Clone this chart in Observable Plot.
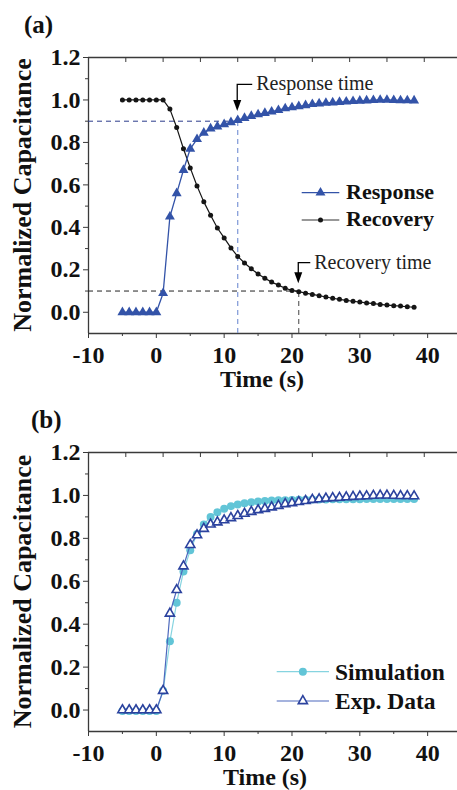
<!DOCTYPE html>
<html><head><meta charset="utf-8">
<script src="https://cdn.jsdelivr.net/npm/d3@7"></script>
<script src="https://cdn.jsdelivr.net/npm/@observablehq/plot@0.6"></script>
<style>
html,body{margin:0;padding:0;background:#fff;}
#chart svg{display:block;}
</style></head><body><div id="chart"></div>
<script>
// ---------- data ----------
const time = [-5,-4,-3,-2,-1,0,1,2,3,4,5,6,7,8,9,10,11,12,13,14,15,16,17,18,19,20,21,22,23,24,25,26,27,28,29,30,31,32,33,34,35,36,37,38];
const response = [0,0,0,0,0,0,0.09,0.45,0.56,0.67,0.77,0.815,0.845,0.865,0.875,0.885,0.895,0.905,0.915,0.924,0.932,0.938,0.945,0.952,0.96,0.965,0.97,0.975,0.98,0.983,0.986,0.988,0.99,0.992,0.994,0.996,0.997,0.999,1.0,1.0,0.999,0.998,0.998,0.997];
const recovery = [1,1,1,1,1,1,1,0.957,0.87,0.77,0.68,0.595,0.52,0.457,0.397,0.35,0.303,0.263,0.232,0.205,0.18,0.16,0.142,0.128,0.113,0.103,0.097,0.09,0.084,0.078,0.072,0.066,0.061,0.056,0.052,0.048,0.044,0.041,0.037,0.034,0.031,0.029,0.026,0.024];
const simulation = [-0.005,-0.005,-0.005,-0.005,-0.005,-0.005,0.09,0.32,0.5,0.645,0.745,0.82,0.865,0.9,0.922,0.938,0.95,0.958,0.964,0.968,0.972,0.974,0.976,0.977,0.978,0.979,0.98,0.98,0.981,0.981,0.981,0.982,0.982,0.982,0.982,0.982,0.983,0.983,0.983,0.983,0.983,0.983,0.983,0.983];
const expData = response;

const responseTime = 12, recoveryTime = 21;
const upperLevel = 0.9, lowerLevel = 0.1;

const xDomain = [-10, 44.4];
const yDomain = [-0.1, 1.2];
const xMajor = [-10, 0, 10, 20, 30, 40];
const xMinor = [-5, 5, 15, 25, 35];
const xTop = [-4.5, 1, 6.5, 12, 17.5, 23, 28.5, 34, 39.5];
const yMajor = [0, 0.2, 0.4, 0.6, 0.8, 1.0, 1.2];
const yMinor = [0.1, 0.3, 0.5, 0.7, 0.9, 1.1];

const rows = time.map((t, i) => ({t, response: response[i], recovery: recovery[i], simulation: simulation[i], exp: expData[i]}));

// ---------- styles ----------
const BLUE = "#3353a8", BLACK = "#151515";
const CYAN = "#62c5d7", CYANLINE = "#86d4e0";
const NAVY = "#2b429e", EXPLINE = "#4d69bd";
const AXIS = "#3a3a3a";
const W = 457, H = 395;

function axes(marginTop, marginBottom) {
  const plotH = H - marginTop - marginBottom;
  return [
    Plot.ruleX([xDomain[0]], {stroke: AXIS, strokeWidth: 1.3}),
    Plot.ruleY([yDomain[0]], {stroke: AXIS, strokeWidth: 1.3}),
    Plot.ruleY([yDomain[1]], {stroke: AXIS, strokeWidth: 1.3}),
    Plot.ruleX(xTop, {stroke: AXIS, insetBottom: plotH - 5}),
    Plot.axisX({ticks: xMajor, tickSize: 5, tickPadding: 7, tickFormat: d => String(d), fontSize: 24, fontWeight: "bold", label: null, stroke: AXIS}),
    Plot.axisX({ticks: xMinor, tickSize: 3, tickFormat: () => "", label: null, stroke: AXIS}),
    Plot.axisY({ticks: yMajor, tickSize: 5, tickPadding: 3, tickFormat: d => d.toFixed(1), fontSize: 24, fontWeight: "bold", label: null, stroke: AXIS}),
    Plot.axisY({ticks: yMinor, tickSize: 3, tickFormat: () => "", label: null, stroke: AXIS})
  ];
}

function titles(tag, tagX, plotTop, plotBottom, xTitleX) {
  return () => {
    const g = d3.create("svg:g").attr("fill", "#111");
    g.append("text").attr("x", tagX).attr("y", 33).attr("text-anchor", "start").attr("font-size", 25).attr("font-weight", "bold").text(tag);
    g.append("text").attr("transform", `translate(31,${(plotTop + plotBottom) / 2}) rotate(-90)`)
      .attr("text-anchor", "middle").attr("font-size", 26).attr("font-weight", "bold").text("Normalized Capacitance");
    g.append("text").attr("x", xTitleX).attr("y", plotBottom + 54).attr("text-anchor", "middle")
      .attr("font-size", 24).attr("font-weight", "bold").text("Time (s)");
    return g.node();
  };
}

function callout(t, v, label, gap, rise, run) {
  return (index, {x, y}) => {
    const px = x(t), py = y(v);
    const tip = py - gap, elbow = py - rise;
    const g = d3.create("svg:g");
    g.append("path").attr("d", `M${px + run},${elbow}H${px}V${tip - 9}`).attr("fill", "none").attr("stroke", "#000").attr("stroke-width", 1.3);
    g.append("path").attr("d", `M${px},${tip}L${px - 4},${tip - 11}L${px + 4},${tip - 11}Z`).attr("fill", "#000");
    g.append("text").attr("x", px + run + 4).attr("y", elbow + 6).attr("text-anchor", "start").attr("font-size", 20).attr("fill", "#222").text(label);
    return g.node();
  };
}

function legend(items, x0, x1, tx, ys, fontSize, base) {
  return () => {
    const g = d3.create("svg:g");
    items.forEach((it, i) => {
      const y = ys[i];
      g.append("line").attr("x1", x0).attr("x2", x1).attr("y1", y).attr("y2", y).attr("stroke", it.line).attr("stroke-width", 1.2);
      const cx = (x0 + x1) / 2;
      if (it.symbol === "circle") {
        g.append("circle").attr("cx", cx).attr("cy", y).attr("r", it.r).attr("fill", it.fill);
      } else {
        const s = d3.symbol(d3.symbolTriangle, Math.PI * it.r * it.r)();
        g.append("path").attr("d", s).attr("transform", `translate(${cx},${y})`)
          .attr("fill", it.fill).attr("stroke", it.stroke || "none").attr("stroke-width", it.sw || 0);
      }
      g.append("text").attr("x", tx).attr("y", y + base).attr("text-anchor", "start").attr("font-size", fontSize).attr("font-weight", "bold").attr("fill", "#111").text(it.label);
    });
    return g.node();
  };
}

const respAt = response[time.indexOf(responseTime)];
const recAt = recovery[time.indexOf(recoveryTime)];

// ---------- panel (a) ----------
const mtA = 57, mbA = 62;
const plotA = Plot.plot({
  width: W, height: H, marginTop: mtA, marginBottom: mbA, marginLeft: 88, marginRight: 0,
  style: {fontFamily: "Liberation Serif", color: "#111", background: "#fff", overflow: "visible"},
  x: {domain: xDomain, axis: null},
  y: {domain: yDomain, axis: null},
  marks: [
    ...axes(mtA, mbA),
    Plot.ruleY([upperLevel], {x1: xDomain[0], x2: responseTime, stroke: "#2a3a8a", strokeDasharray: "5,4", strokeWidth: 1}),
    Plot.ruleX([responseTime], {y1: yDomain[0], y2: upperLevel, stroke: "#7d97d6", strokeDasharray: "5,4", strokeWidth: 1.2}),
    Plot.ruleY([lowerLevel], {x1: xDomain[0], x2: recoveryTime, stroke: "#222", strokeDasharray: "5,4", strokeWidth: 1}),
    Plot.ruleX([recoveryTime], {y1: yDomain[0], y2: lowerLevel, stroke: "#444", strokeDasharray: "5,4", strokeWidth: 1}),
    Plot.line(rows, {x: "t", y: "recovery", stroke: BLACK, strokeWidth: 1.2}),
    Plot.dot(rows, {x: "t", y: "recovery", r: 2.5, fill: BLACK, stroke: "none"}),
    Plot.line(rows, {x: "t", y: "response", stroke: BLUE, strokeWidth: 1.3}),
    Plot.dot(rows, {x: "t", y: "response", symbol: "triangle", r: 3.7, fill: BLUE, stroke: "none"}),
    callout(responseTime, respAt, "Response time", 8.6, 35.3, 15),
    callout(recoveryTime, recAt, "Recovery time", 7.9, 28.5, 12),
    legend([
      {label: "Response", line: BLUE, symbol: "triangle", r: 3.7, fill: BLUE},
      {label: "Recovery", line: "#333", symbol: "circle", r: 2.5, fill: BLACK}
    ], 301.7, 339.3, 346, [192.7, 220], 22, 6),
    titles("(a)", 24, mtA, H - mbA, 262)
  ]
});

// ---------- panel (b) ----------
const mtB = 57, mbB = 59;
const plotB = Plot.plot({
  width: W, height: H, marginTop: mtB, marginBottom: mbB, marginLeft: 88, marginRight: 0,
  style: {fontFamily: "Liberation Serif", color: "#111", background: "#fff", overflow: "visible"},
  x: {domain: xDomain, axis: null},
  y: {domain: yDomain, axis: null},
  marks: [
    ...axes(mtB, mbB),
    Plot.line(rows, {x: "t", y: "simulation", stroke: CYANLINE, strokeWidth: 1.2}),
    Plot.dot(rows, {x: "t", y: "simulation", r: 4, fill: CYAN, stroke: "none"}),
    Plot.line(rows, {x: "t", y: "exp", stroke: EXPLINE, strokeWidth: 1.2}),
    Plot.dot(rows, {x: "t", y: "exp", symbol: "triangle", r: 3.4, fill: "#fff", stroke: NAVY, strokeWidth: 1.6}),
    legend([
      {label: "Simulation", line: CYANLINE, symbol: "circle", r: 4, fill: CYAN},
      {label: "Exp. Data", line: EXPLINE, symbol: "triangle", r: 3.4, fill: "#fff", stroke: NAVY, sw: 1.6}
    ], 276.7, 329, 335, [276.7, 306], 23.5, 8),
    titles("(b)", 31, mtB, H - mbB, 265)
  ]
});

document.getElementById("chart").append(plotA, plotB);
</script>
</body></html>
